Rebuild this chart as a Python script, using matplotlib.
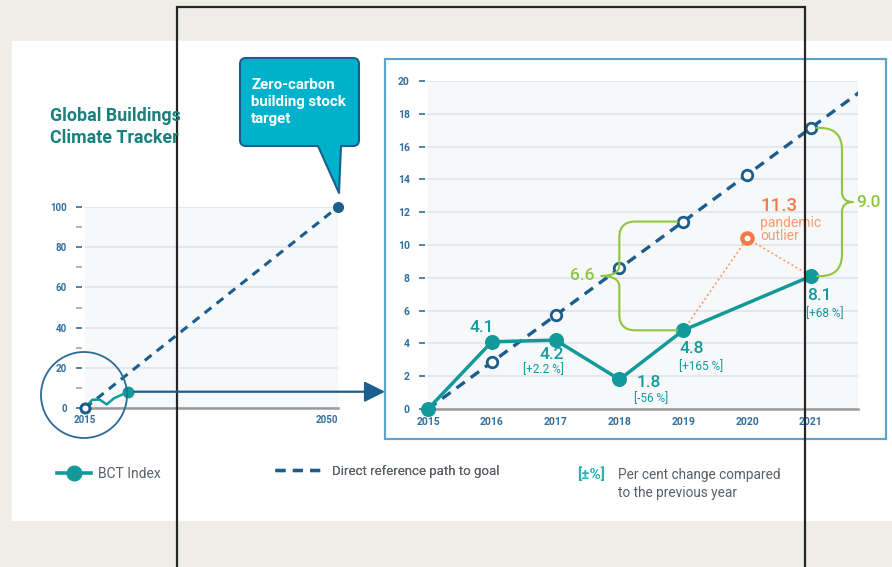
import matplotlib
matplotlib.use("Agg")
import matplotlib.pyplot as plt
from matplotlib.patches import Rectangle, Circle, PathPatch
from matplotlib.path import Path
from matplotlib.lines import Line2D

plt.rcParams['font.family'] = ['Roboto', 'DejaVu Sans']

# ---------------- data ----------------
years = [2015, 2016, 2017, 2018, 2019, 2020, 2021]
bct_index = [0.0, 4.1, 4.2, 1.8, 4.8, None, 8.1]
bct_labels = ['', '4.1', '4.2', '1.8', '4.8', '', '8.1']
pct_change = ['', '', '[+2.2 %]', '[-56 %]', '[+165 %]', '', '[+68 %]']
reference_path = [0.0, 2.86, 5.71, 8.57, 11.43, 14.29, 17.14]
goal_years = [2015, 2050]
goal_values = [0, 100]
outlier_year = 2020
outlier_value = 10.4
outlier_label = '11.3'
outlier_note = 'pandemic\noutlier'
gap_labels = {2019: '6.6', 2021: '9.0'}
main_yticks = list(range(0, 21, 2))
overview_yticks = list(range(0, 101, 20))
overview_minor = list(range(10, 100, 20))
overview_xticks = [2015, 2050]
title = 'Global Buildings\nClimate Tracker'
callout = 'Zero-carbon\nbuilding stock\ntarget'
legend_bct = 'BCT Index'
legend_ref = 'Direct reference path to goal'
legend_pct_key = '[±%]'
legend_pct = 'Per cent change compared\nto the previous year'

# ---------------- style ----------------
TEAL = '#12999A'
DBLUE = '#1B5E8E'
ORANGE = '#F47A45'
LORANGE = '#F89B70'
GREEN = '#8DC63F'
TICKBLUE = '#2F6F9E'
GRAYTXT = '#5A6066'
BEIGE = '#EEEDE6'
TITLEC = '#19807E'
PLOTBG = '#F7F8FA'
GRIDC = '#E2E4E7'

W, H = 892, 567
fig = plt.figure(figsize=(W / 100, H / 100), dpi=100)


def fig_axes(x0, y0, x1, y1, **kw):
    return fig.add_axes([x0 / W, 1 - y1 / H, (x1 - x0) / W, (y1 - y0) / H], **kw)


# background layer
bg = fig.add_axes([0, 0, 1, 1], zorder=0)
bg.set_xlim(0, W)
bg.set_ylim(H, 0)
bg.axis('off')
bg.add_patch(Rectangle((0, 0), W, H, color=BEIGE))
bg.add_patch(Rectangle((12, 41), 880, 479, color='white'))
bg.add_patch(Rectangle((385, 59), 501, 380, fill=False, ec='#5DA4CF', lw=1.6))


def style_axes(ax):
    ax.set_facecolor(PLOTBG)
    for s in ('left', 'top', 'right'):
        ax.spines[s].set_visible(False)
    ax.spines['bottom'].set_color('#9A9A9A')
    ax.spines['bottom'].set_linewidth(1.8)
    ax.spines['left'].set_position(('outward', 2))
    ax.yaxis.grid(True, color=GRIDC, lw=1.2)
    ax.set_axisbelow(True)
    ax.tick_params(axis='y', which='major', length=4, width=1.2, color=TICKBLUE,
                   pad=7, labelsize=7.5, labelcolor=TICKBLUE)
    ax.tick_params(axis='x', length=0, pad=6, labelsize=7.5, labelcolor=TICKBLUE)


# ---------------- main chart ----------------
ax = fig_axes(428, 81, 858, 409, zorder=2)
ax.set_xlim(2015, 2015 + (858 - 428) / 63.83)
ax.set_ylim(0, 20)
style_axes(ax)
ax.set_yticks(main_yticks)
ax.set_xticks(years)
for lb in ax.get_xticklabels() + ax.get_yticklabels():
    lb.set_fontweight('bold')

ax.plot(goal_years, goal_values, color=DBLUE, lw=2.4, dashes=(3.1, 2.2),
        dash_capstyle='butt', zorder=3)
ax.plot(years[1:], reference_path[1:], 'o', ms=7.6, mfc='white', mec=DBLUE,
        mew=2.0, zorder=6, clip_on=False)

vx = [y for y, v in zip(years, bct_index) if v is not None]
vv = [v for v in bct_index if v is not None]
i19, i20, i21 = years.index(2019), years.index(2020), years.index(2021)
ax.plot([years[i19], outlier_year, years[i21]],
        [bct_index[i19], outlier_value, bct_index[i21]],
        color=LORANGE, lw=1.2, ls=(0, (1.2, 1.6)), zorder=4)
ax.plot(vx, vv, color=TEAL, lw=2.5, marker='o', ms=9.8, zorder=5, clip_on=False)
ax.plot(outlier_year, outlier_value, 'o', ms=9.5, color=ORANGE, zorder=6)
ax.plot(outlier_year, outlier_value, 'o', ms=3.2, color='white', zorder=7)

num_style = dict(color=TEAL, fontsize=12.5, fontweight='medium', va='center', zorder=8)
pct_style = dict(color=TEAL, fontsize=8.5, va='center', zorder=8)
# (ha, number offset, pct offset) in pixels, y up
label_place = {2016: ('center', (-10, 14), None),
               2017: ('right', (8, -14), (8, -29)),
               2018: ('left', (17, -3), (15, -19)),
               2019: ('left', (-4, -18), (-4, -36)),
               2021: ('left', (-4, -19), (-5, -37))}
for yr, (ha, off_n, off_p) in label_place.items():
    i = years.index(yr)
    ax.annotate(bct_labels[i], (yr, bct_index[i]), xytext=off_n,
                textcoords='offset pixels', ha=ha, **num_style)
    if off_p is not None:
        ax.annotate(pct_change[i], (yr, bct_index[i]), xytext=off_p,
                    textcoords='offset pixels', ha=ha, **pct_style)

ax.annotate(outlier_label, (outlier_year, outlier_value), xytext=(13, 32),
            textcoords='offset pixels', ha='left', va='center', color=ORANGE,
            fontsize=13.5, fontweight='medium', zorder=8)
ax.annotate(outlier_note, (outlier_year, outlier_value), xytext=(13, 9),
            textcoords='offset pixels', ha='left', va='center', color=LORANGE,
            fontsize=10, linespacing=0.9, zorder=8)

# ---------------- overview chart ----------------
axl = fig_axes(85, 207, 338, 408, zorder=2)
axl.set_xlim(2015, 2050)
axl.set_ylim(0, 100)
style_axes(axl)
axl.set_yticks(overview_yticks)
axl.set_yticks(overview_minor, minor=True)
axl.tick_params(axis='y', which='minor', length=4, width=1.2, color='#A8A8A8')
axl.tick_params(axis='y', which='major', labelsize=7)
axl.tick_params(axis='x', labelsize=7, pad=5)
axl.set_xticks(overview_xticks)
for lb in axl.get_xticklabels() + axl.get_yticklabels():
    lb.set_fontweight('bold')
axl.get_xticklabels()[-1].set_ha('right')
axl.plot(goal_years, goal_values, color=DBLUE, lw=2.2, dashes=(2.8, 2.2),
         dash_capstyle='butt', zorder=3)
axl.plot(goal_years[-1], goal_values[-1], 'o', ms=7, color=DBLUE, zorder=5,
         clip_on=False)
axl.plot(vx, vv, color=TEAL, lw=1.8, zorder=4, clip_on=False)
axl.plot(vx[-1], vv[-1], 'o', ms=7.5, color=TEAL, zorder=5, clip_on=False)
axl.plot(goal_years[0], goal_values[0], 'o', ms=6.5, mfc='white', mec=DBLUE,
         mew=2.2, zorder=6, clip_on=False)

# ---------------- top overlay ----------------
top = fig.add_axes([0, 0, 1, 1], zorder=5)
top.set_xlim(0, W)
top.set_ylim(H, 0)
top.axis('off')
top.patch.set_visible(False)


def to_px(a, x, y):
    d = a.transData.transform((x, y))
    return d[0], H - d[1]


def brace(x_end, y_top, y_bot, x_stem, x_tip, r, r2):
    s = 1 if x_end > x_stem else -1
    ym = (y_top + y_bot) / 2
    verts = [(x_end, y_top), (x_stem + s * r, y_top),
             (x_stem, y_top), (x_stem, y_top + r),
             (x_stem, ym - r2),
             (x_stem, ym), (x_tip, ym),
             (x_stem, ym), (x_stem, ym + r2),
             (x_stem, y_bot - r),
             (x_stem, y_bot), (x_stem + s * r, y_bot),
             (x_end, y_bot)]
    codes = [Path.MOVETO, Path.LINETO, Path.CURVE3, Path.CURVE3, Path.LINETO,
             Path.CURVE3, Path.CURVE3, Path.CURVE3, Path.CURVE3, Path.LINETO,
             Path.CURVE3, Path.CURVE3, Path.LINETO]
    top.add_patch(PathPatch(Path(verts, codes), fill=False, ec=GREEN, lw=1.5,
                            capstyle='round', joinstyle='round'))
    return ym


# brace 2019 (pointing left)
xr, yr_ = to_px(ax, 2019, reference_path[i19])
xb, yb_ = to_px(ax, 2019, bct_index[i19])
ym = brace(xr - 6, yr_, yb_, xr - 64, xr - 82, 16, 11)
top.text(xr - 89, ym, gap_labels[2019], color=GREEN, fontsize=12.5,
         fontweight='medium', ha='right', va='center')
# brace 2021 (pointing right)
xr, yr_ = to_px(ax, 2021, reference_path[i21])
xb, yb_ = to_px(ax, 2021, bct_index[i21])
ym = brace(xr + 6, yr_, yb_, xr + 31, xr + 42, 22, 10)
top.text(xr + 45, ym, gap_labels[2021], color=GREEN, fontsize=12.5,
         fontweight='medium', ha='left', va='center')

# circle highlight and arrow to the zoomed chart
top.add_patch(Circle((84, 395), 43, fill=False, ec='#2B6A99', lw=1.3))
ax0, ay0 = to_px(axl, vx[-1], vv[-1])
top.annotate('', xy=(385, ay0), xytext=(ax0, ay0),
             arrowprops=dict(arrowstyle='-|>,head_length=0.9,head_width=0.45',
                             color=DBLUE, lw=1.6, shrinkA=4, shrinkB=0,
                             mutation_scale=14))

# callout
r = 6
x0, y0, x1, y1 = 240, 58, 359, 146
verts = [(x0 + r, y0), (x1 - r, y0), (x1, y0), (x1, y0 + r), (x1, y1 - r),
         (x1, y1), (x1 - r, y1), (341, y1), (339, 193), (318, y1),
         (x0 + r, y1), (x0, y1), (x0, y1 - r), (x0, y0 + r), (x0, y0),
         (x0 + r, y0), (x0 + r, y0)]
codes = [Path.MOVETO, Path.LINETO, Path.CURVE3, Path.CURVE3, Path.LINETO,
         Path.CURVE3, Path.CURVE3, Path.LINETO, Path.LINETO, Path.LINETO,
         Path.LINETO, Path.CURVE3, Path.CURVE3, Path.LINETO, Path.CURVE3,
         Path.CURVE3, Path.CLOSEPOLY]
top.add_patch(PathPatch(Path(verts, codes), fc='#00B1CC', ec='#1D5F8C', lw=1.5,
                        joinstyle='round'))
top.text(251, 102, callout, color='white', fontsize=10.8, fontweight='bold',
         ha='left', va='center', linespacing=1.25)

# title
top.text(50, 127, title, color=TITLEC, fontsize=12.8, fontweight='bold',
         ha='left', va='center', linespacing=1.28)

# legends
leg1 = top.legend(handles=[Line2D([], [], color=TEAL, lw=2.6, marker='o', ms=10.5)],
                  labels=[legend_bct], loc='center left', bbox_to_anchor=(57, 474),
                  bbox_transform=top.transData, frameon=False, handlelength=2.45,
                  handletextpad=0.5, borderpad=0, borderaxespad=0,
                  prop=dict(size=10), labelcolor=GRAYTXT)
top.add_artist(leg1)
leg2 = top.legend(handles=[Line2D([], [], color=DBLUE, lw=2.4, dashes=(3.0, 2.2))],
                  labels=[legend_ref], loc='center left', bbox_to_anchor=(275, 471),
                  bbox_transform=top.transData, frameon=False, handlelength=3.4,
                  handletextpad=0.9, borderpad=0, borderaxespad=0,
                  prop=dict(size=9.5), labelcolor=GRAYTXT)
top.add_artist(leg2)
top.text(577, 475, legend_pct_key, color='#2BB0B8', fontsize=11, fontweight='bold',
         ha='left', va='center')
top.text(618, 484, legend_pct, color=GRAYTXT, fontsize=9.8, ha='left',
         va='center', linespacing=1.3)

# black frame overlay
top.plot([177, 177, 805, 805], [H + 5, 7, 7, H + 5], color='#262626', lw=1.6,
         solid_joinstyle='miter', clip_on=False)

fig.savefig('out.png', dpi=100)
